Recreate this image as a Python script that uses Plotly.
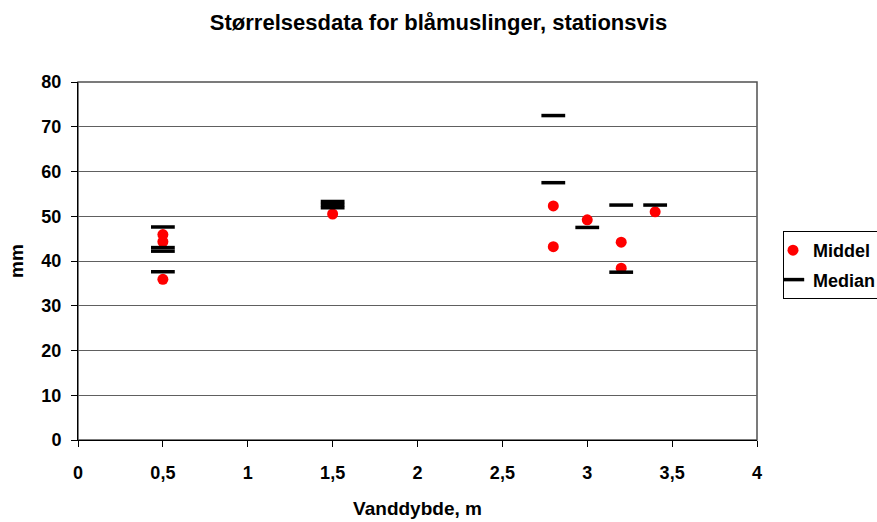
import plotly.graph_objects as go

# Data
middel_x = [0.5, 0.5, 0.5, 1.5, 2.8, 2.8, 3.0, 3.2, 3.2, 3.4]
middel_y = [45.9, 44.3, 35.9, 50.5, 52.3, 43.2, 49.2, 44.2, 38.4, 51.0]

median_x = [0.5, 0.5, 0.5, 0.5, 1.5, 1.5, 1.5, 2.8, 2.8, 3.0, 3.2, 3.2, 3.4]
median_y = [47.6, 43.0, 42.2, 37.6, 53.3, 52.6, 51.9, 72.5, 57.5, 47.5, 52.5, 37.5, 52.5]

x_ticks = [0, 0.5, 1, 1.5, 2, 2.5, 3, 3.5, 4]
y_ticks = [0, 10, 20, 30, 40, 50, 60, 70, 80]

FONT = "Liberation Sans, Arial, sans-serif"

fig = go.Figure()
fig.add_trace(go.Scatter(
    x=middel_x, y=middel_y, mode="markers", name="<b>Middel</b>",
    legendgroup="a",
    marker=dict(symbol="circle", size=11, color="#ff0000", line=dict(width=0)),
))
fig.add_trace(go.Scatter(
    x=median_x, y=median_y, mode="markers", name="<b>Median</b>",
    legendgroup="b",
    marker=dict(symbol="line-ew", size=17, color="black",
                line=dict(width=3.5, color="black")),
))

fig.update_layout(
    width=877, height=522,
    paper_bgcolor="white", plot_bgcolor="white",
    separators=",.",
    font=dict(family=FONT, size=18, color="black"),
    margin=dict(l=78, r=120, t=82, b=82, autoexpand=False),
    title=dict(text="<b>Størrelsesdata for blåmuslinger, stationsvis</b>",
               x=0.5, xref="container", xanchor="center",
               y=1 - 22 / 522, yref="container", yanchor="middle",
               font=dict(size=22)),
    showlegend=True,
    legend=dict(x=(783 - 78) / 679, xanchor="left", y=(440 - 231) / 358, yanchor="top",
                bgcolor="white", bordercolor="black", borderwidth=1,
                font=dict(size=18, weight="bold"), tracegroupgap=3,
                indentation=-11,
                itemsizing="trace"),
    xaxis=dict(range=[0, 4], tickvals=x_ticks, showgrid=False, zeroline=False,
               showline=True, linecolor="black", linewidth=1,
               ticks="outside", ticklen=6, tickcolor="black",
               ticklabelstandoff=10,
               tickfont=dict(size=18, weight="bold"),
               title=dict(text="<b>Vanddybde, m</b>", standoff=20, font=dict(size=19))),
    yaxis=dict(range=[0, 80], tickvals=y_ticks, showgrid=True, gridcolor="#606060",
               gridwidth=1, zeroline=False,
               showline=True, linecolor="black", linewidth=1,
               ticks="outside", ticklen=6, tickcolor="black",
               ticklabelstandoff=6,
               tickfont=dict(size=18, weight="bold"),
               title=dict(text="<b>mm</b>", standoff=12, font=dict(size=19))),
    shapes=[dict(type="rect", xref="paper", yref="paper", x0=0, x1=1, y0=0, y1=1,
                 line=dict(color="#505050", width=1.5), layer="below")],
)

fig.write_html("out.html", config={"displayModeBar": False},
               post_script="document.body.style.margin='0';document.body.style.overflow='hidden';")
